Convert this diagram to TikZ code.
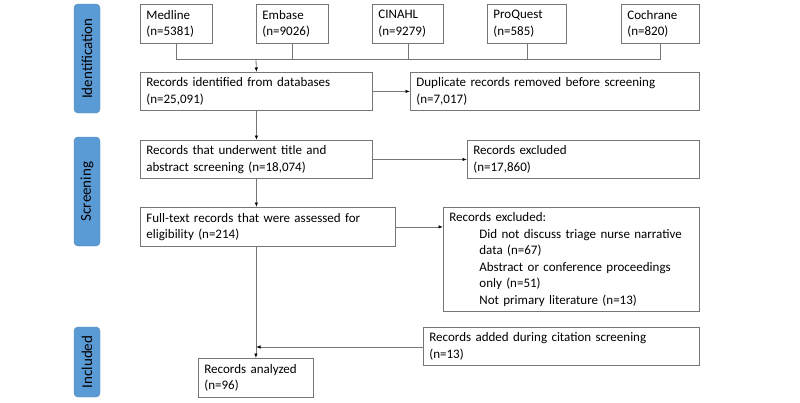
\documentclass[tikz,border=0pt]{standalone}
\usepackage{fontspec}
\setmainfont{Carlito}
\usetikzlibrary{arrows.meta}
\definecolor{stagebl}{RGB}{91,155,213}
\definecolor{linegr}{RGB}{118,118,118}
\begin{document}
\begin{tikzpicture}[x=1pt, y=-1pt,
    box/.style={draw=linegr, line width=0.8pt, rectangle, anchor=north west,
        align=left, inner xsep=6pt, inner ysep=0pt,
        font=\fontsize{13}{16.5}\selectfont},
    stage/.style={draw=stagebl!85!black, fill=stagebl, rounded corners=4pt,
        minimum height=26pt, rotate=90, inner sep=0pt,
        font=\fontsize{15}{18}\selectfont},
    conn/.style={draw=linegr, line width=0.8pt},
    arr/.style={conn, -{Latex[length=4.5pt, width=3.5pt, black]}}]
    \useasboundingbox (0,0) rectangle (800,402);
    %% Stage labels
    \node[stage, minimum width=109pt] (idlab) at (87, 58.5) {Identification};
    \node[stage, minimum width=109pt] (sclab) at (87, 191.5) {Screening};
    \node[stage, minimum width=70pt] (inlab) at (87, 362) {Included};
    %% Databases
    \node[box, text width=60pt, minimum height=39pt] (medline) at (140, 4)
        {Medline\\(n=5381)};
    \node[box, text width=60pt, minimum height=39pt] (embase) at (256, 4)
        {Embase\\(n=9026)};
    \node[box, text width=59pt, minimum height=39pt] (cinahl) at (372, 4)
        {CINAHL\\(n=9279)};
    \node[box, text width=67pt, minimum height=39pt] (proquest) at (487, 4)
        {ProQuest\\(n=585)};
    \node[box, text width=66pt, minimum height=39pt] (cochrane) at (621, 4)
        {Cochrane\\(n=820)};
    %% Main column
    \node[box, text width=220pt, minimum height=38pt] (identified) at (140, 72)
        {Records identified from databases\\(n=25,091)};
    \node[box, text width=220pt, minimum height=38pt] (screened) at (140, 140)
        {Records that underwent title and\\abstract screening (n=18,074)};
    \node[box, text width=243pt, minimum height=39pt] (fulltext) at (140, 207)
        {Full-text records that were assessed for\\eligibility (n=214)};
    \node[box, text width=103pt, minimum height=39pt] (analyzed) at (198, 358)
        {Records analyzed\\(n=96)};
    %% Side boxes
    \node[box, text width=277pt, minimum height=38pt] (duplicates) at (410, 72)
        {Duplicate records removed before screening\\(n=7,017)};
    \node[box, text width=220pt, minimum height=38pt] (excluded) at (467, 140)
        {Records excluded\\(n=17,860)};
    \node[box, text width=244pt, minimum height=104pt] (ftexcluded) at (443, 207)
        {Records excluded:\\
         \hspace*{30pt}Did not discuss triage nurse narrative\\
         \hspace*{30pt}data (n=67)\\
         \hspace*{30pt}Abstract or conference proceedings\\
         \hspace*{30pt}only (n=51)\\
         \hspace*{30pt}Not primary literature (n=13)};
    \node[box, text width=264pt, minimum height=38pt] (added) at (423, 327)
        {Records added during citation screening\\(n=13)};
    %% Connectors
    \coordinate (bus) at (256, 59);
    \coordinate (join) at (256, 347);
    \draw[conn] (medline.south) |- (cochrane.south |- bus) -- (cochrane.south);
    \foreach \db in {embase, cinahl, proquest}
        \draw[conn] (\db.south) -- (\db.south |- bus);
    \draw[arr] (bus) -- (identified.north);
    \draw[arr] (identified.east) -- (duplicates.west);
    \draw[arr] (identified.south) -- (screened.north);
    \draw[arr] (screened.east) -- (excluded.west);
    \draw[arr] (screened.south) -- (screened.south |- fulltext.north);
    \draw[arr] (fulltext.east) -- (fulltext.east -| ftexcluded.west);
    \draw[arr] (analyzed.north |- fulltext.south) -- (analyzed.north);
    \draw[arr] (added.west |- join) -- (join);
\end{tikzpicture}
\end{document}
